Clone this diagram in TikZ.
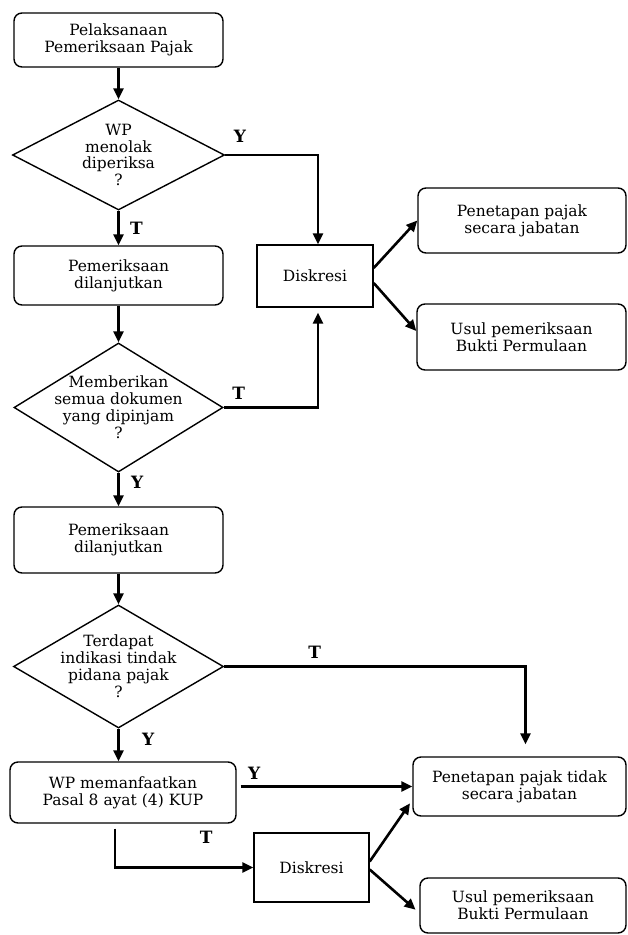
\documentclass[tikz,border=0pt]{standalone}
\usepackage{fontspec}
\setmainfont{DejaVu Serif}
\usetikzlibrary{arrows.meta,shapes.geometric,calc}

\begin{document}
\begin{tikzpicture}[x=1pt, y=-1pt,
    every node/.style={font=\fontsize{15.5}{16.9}\selectfont, align=center},
    proses/.style={draw, line width=1.4pt, rounded corners=8pt, inner sep=0pt},
    kotak/.style={draw, line width=1.4pt, inner sep=0pt},
    keputusan/.style={draw, diamond, line width=1.4pt, inner xsep=-35pt, inner ysep=-20pt, aspect=1.7},
    panah/.style={line width=2.6pt, -{Triangle[length=11pt,width=10pt]}},
    jawab/.style={font=\fontsize{17}{18}\selectfont\bfseries}]
            \useasboundingbox (0,0) rectangle (628,935);

            \node[proses, minimum width=209pt, minimum height=54pt] (mulai) at (118.5,40) {Pelaksanaan\\Pemeriksaan Pajak};
            \node[keputusan, minimum width=212pt, minimum height=110pt] (tolak) at (118.5,155) {WP\\menolak\\diperiksa\\?};
            \node[proses, minimum width=209pt, minimum height=59pt] (lanjut1) at (118.5,275.5) {Pemeriksaan\\dilanjutkan};
            \node[kotak, minimum width=116pt, minimum height=62pt] (diskresi1) at (315,276) {Diskresi};
            \node[proses, minimum width=208pt, minimum height=65pt] (jabatan1) at (522,220.5) {Penetapan pajak\\secara jabatan};
            \node[proses, minimum width=209pt, minimum height=66pt] (bukper1) at (521.5,337) {Usul pemeriksaan\\Bukti Permulaan};

            \node[keputusan, minimum width=209pt, minimum height=129pt] (dokumen) at (118.5,407.5) {Memberikan\\semua dokumen\\yang dipinjam\\?};
            \node[proses, minimum width=209pt, minimum height=66pt] (lanjut2) at (118.5,540) {Pemeriksaan\\dilanjutkan};
            \node[keputusan, minimum width=210pt, minimum height=123pt] (pidana) at (118.5,666.5) {Terdapat\\indikasi tindak\\pidana pajak\\?};

            \node[proses, minimum width=226pt, minimum height=61pt] (pasal8) at (123,792.5) {WP memanfaatkan\\Pasal 8 ayat (4) KUP};
            \node[proses, minimum width=213pt, minimum height=59pt] (jabatan2) at (519.5,786.5) {Penetapan pajak tidak\\secara jabatan};
            \node[kotak, minimum width=115pt, minimum height=69pt] (diskresi2) at (311.5,867.5) {Diskresi};
            \node[proses, minimum width=206pt, minimum height=55pt] (bukper2) at (523,905.5) {Usul pemeriksaan\\Bukti Permulaan};

            \draw[panah] (mulai.south) -- (tolak.north);
            \draw[panah] (tolak.south) -- node[jawab, right=7pt]{T} (lanjut1.north);
            \draw[panah] (tolak.east) -| node[jawab, anchor=south west, pos=0, xshift=4pt, yshift=8pt]{Y} ([xshift=3pt]diskresi1.north);
            \draw[panah] ([yshift=8pt]diskresi1.east) -- (jabatan1.west);
            \draw[panah] ([yshift=-7pt]diskresi1.east) -- ([yshift=6pt]bukper1.west);

            \draw[panah] (lanjut1.south) -- (dokumen.north);
            \draw[panah, shorten >=5pt] (dokumen.east) -| node[jawab, anchor=south west, pos=0, xshift=4pt, yshift=3pt]{T} ([xshift=3pt]diskresi1.south);
            \draw[panah] (dokumen.south) -- node[jawab, right=8pt, pos=0.3]{Y} (lanjut2.north);
            \draw[panah] (lanjut2.south) -- (pidana.north);

            \draw[panah, shorten >=12pt] (pidana.east) -| node[jawab, above=3pt, pos=0.15]{T} ([xshift=6pt]jabatan2.north);
            \draw[panah] (pidana.south) -- node[jawab, right=19pt, pos=0.33]{Y} (pidana.south |- pasal8.north);
            \draw[panah, shorten <=4pt] (jabatan2.west -| pasal8.east) -- node[jawab, above=2pt, pos=0.1]{Y} (jabatan2.west);
            \draw[panah, shorten <=5pt] ([xshift=-8pt]pasal8.south) |- node[jawab, above=19pt, pos=0.83]{T} (diskresi2.west);
            \draw[panah, shorten >=4pt] ([yshift=6pt]diskresi2.east) -- ([yshift=-13.5pt]jabatan2.west);
            \draw[panah, shorten >=5pt] ([yshift=-2pt]diskresi2.east) -- ([yshift=-7.5pt]bukper2.west);
        \end{tikzpicture}
\end{document}
